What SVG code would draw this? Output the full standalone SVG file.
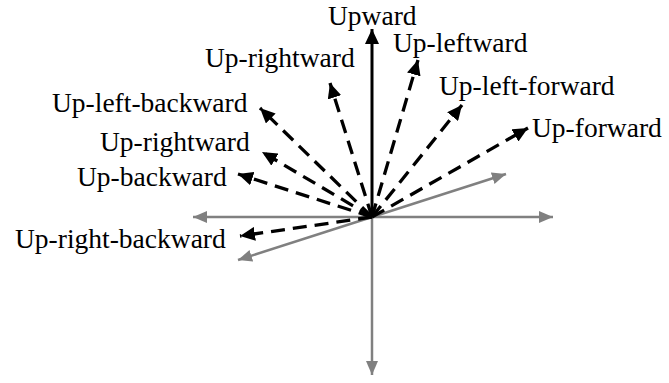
<svg xmlns="http://www.w3.org/2000/svg" width="669" height="383" viewBox="0 0 669 383">
<style>
text{font-family:"Liberation Serif","Times New Roman",serif;font-size:27.5px;fill:#000}
.ax{stroke:#808080;stroke-width:2.5;fill:none;marker-end:url(#ga)}
.up{stroke:#000;stroke-width:3;fill:none;marker-end:url(#ba)}
.d{stroke:#000;stroke-width:3.3;fill:none;stroke-dasharray:14 8;marker-end:url(#ba)}
</style>
<defs>
<marker id="ga" markerUnits="userSpaceOnUse" markerWidth="16" markerHeight="12" refX="14" refY="6" orient="auto"><path d="M0,0 L14,6 L0,12 Z" fill="#808080"/></marker>
<marker id="ba" markerUnits="userSpaceOnUse" markerWidth="17" markerHeight="14" refX="15" refY="7" orient="auto"><path d="M0,0 L15,7 L0,14 Z" fill="#000"/></marker>
</defs>
<g id="connectors">
<line class="ax" x1="372" y1="217" x2="193" y2="217"/>
<line class="ax" x1="372" y1="217" x2="553" y2="217"/>
<line class="ax" x1="372" y1="217" x2="372" y2="375"/>
<line class="ax" x1="372" y1="217" x2="506" y2="174"/>
<line class="ax" x1="372" y1="217" x2="238" y2="260"/>
<line class="up" x1="372" y1="217" x2="372" y2="29"/>
<line class="d" x1="372" y1="217" x2="418" y2="60"/>
<line class="d" x1="372" y1="217" x2="462" y2="105"/>
<line class="d" x1="372" y1="217" x2="528" y2="128"/>
<line class="d" x1="372" y1="217" x2="330" y2="83"/>
<line class="d" x1="372" y1="217" x2="260" y2="108"/>
<line class="d" x1="372" y1="217" x2="262" y2="152"/>
<line class="d" x1="372" y1="217" x2="238" y2="174"/>
<line class="d" x1="372" y1="217" x2="240" y2="236"/>
</g>
<g id="upward"><text x="328" y="25">Upward</text></g>
<g id="up-leftward"><text x="393" y="52">Up-leftward</text></g>
<g id="up-left-forward"><text x="439" y="95">Up-left-forward</text></g>
<g id="up-forward"><text x="532" y="137">Up-forward</text></g>
<g id="up-rightward-1"><text x="205" y="67">Up-rightward</text></g>
<g id="up-left-backward"><text x="52" y="112">Up-left-backward</text></g>
<g id="up-rightward-2"><text x="100" y="151">Up-rightward</text></g>
<g id="up-backward"><text x="77" y="186">Up-backward</text></g>
<g id="up-right-backward"><text x="15" y="248">Up-right-backward</text></g>
</svg>
